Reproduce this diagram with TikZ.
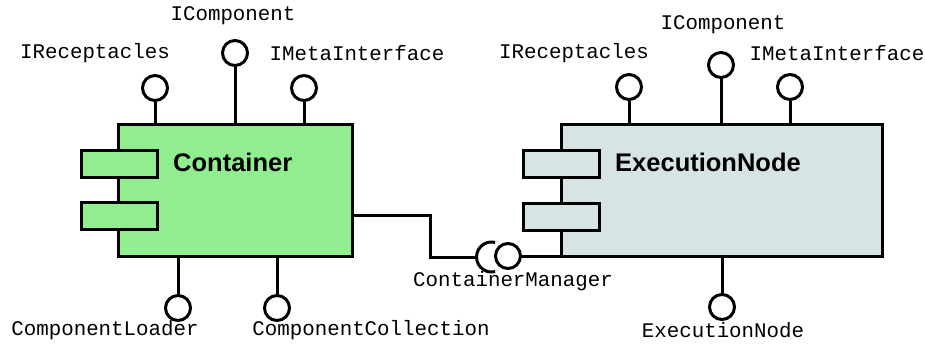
\documentclass[tikz,border=0pt]{standalone}
\usepackage{fontspec}
\setmainfont{Liberation Sans}
\newfontfamily\ifacefont{Liberation Mono}
\definecolor{contgreen}{RGB}{144,238,144}
\definecolor{execgrey}{RGB}{215,228,228}
\tikzset{
  comp/.style={draw, line width=3pt, inner sep=0pt, minimum height=132pt},
  port/.style={draw, line width=3pt, inner sep=0pt, minimum width=76pt, minimum height=27pt},
  ball/.style={circle, draw, line width=3pt, fill=white, inner sep=0pt, minimum size=25pt},
  wire/.style={line width=3pt},
  iface/.style={inner sep=0pt, font=\ifacefont\fontsize{20.8}{24}\selectfont},
  title/.style={inner sep=0pt, anchor=west, font=\fontsize{25.5}{30}\selectfont\bfseries},
}
\begin{document}
\begin{tikzpicture}[x=1pt, y=-1pt]
\useasboundingbox (0,0) rectangle (925,343);

% ---- Container component ----
\node[comp, fill=contgreen, minimum width=234pt] (cont) at (235,190) {};
\node[port, fill=contgreen] (cport1) at (119,163.5) {};
\node[port, fill=contgreen] (cport2) at (119,216) {};
\node[title] (ctitle) at (173,162) {Container};

\node[ball] (crec) at (155,88) {};
\node[ball] (ccomp) at (235,53) {};
\node[ball] (cmeta) at (304,88) {};
\node[ball] (cload) at (178,308) {};
\node[ball] (ccoll) at (277,308) {};
\draw[wire] (crec.south) -- (crec.south |- cont.north);
\draw[wire] (ccomp.south) -- (ccomp.south |- cont.north);
\draw[wire] (cmeta.south) -- (cmeta.south |- cont.north);
\draw[wire] (cload.north) -- (cload.north |- cont.south);
\draw[wire] (ccoll.north) -- (ccoll.north |- cont.south);

\node[iface] (lcrec) at (95,53) {IReceptacles};
\node[iface] (lccomp) at (233,16) {IComponent};
\node[iface] (lcmeta) at (357,53) {IMetaInterface};
\node[iface] (lcload) at (105,330) {ComponentLoader};
\node[iface] (lccoll) at (371,330) {ComponentCollection};

% ---- ExecutionNode component ----
\node[comp, fill=execgrey, minimum width=321pt] (exec) at (721.5,190) {};
\node[port, fill=execgrey] (eport1) at (561.5,163.5) {};
\node[port, fill=execgrey] (eport2) at (561.5,216.5) {};
\node[title] (etitle) at (615,162) {ExecutionNode};

\node[ball] (erec) at (629,87) {};
\node[ball] (ecomp) at (721,65) {};
\node[ball] (emeta) at (790,87) {};
\node[ball] (enode) at (722,307) {};
\draw[wire] (erec.south) -- (erec.south |- exec.north);
\draw[wire] (ecomp.south) -- (ecomp.south |- exec.north);
\draw[wire] (emeta.south) -- (emeta.south |- exec.north);
\draw[wire] (enode.north) -- (enode.north |- exec.south);

\node[iface] (lerec) at (574,53) {IReceptacles};
\node[iface] (lecomp) at (723,25) {IComponent};
\node[iface] (lemeta) at (837,53) {IMetaInterface};
\node[iface] (lenode) at (723,330) {ExecutionNode};

% ---- ContainerManager: required socket meets provided ball ----
\coordinate (sock) at (476.5,257);
\node[ball] (cmball) at (508,256) {};
\draw[wire] (cont.east |- 0,215) -- (430,215) |- (sock);
\draw[wire] (sock) arc[start angle=180, end angle=76, radius=15pt];
\draw[wire] (sock) arc[start angle=180, end angle=284, radius=15pt];
\draw[wire] (cmball.east) -- (cmball.east -| exec.west);
\node[iface] (lcm) at (513,281) {ContainerManager};
\end{tikzpicture}
\end{document}
